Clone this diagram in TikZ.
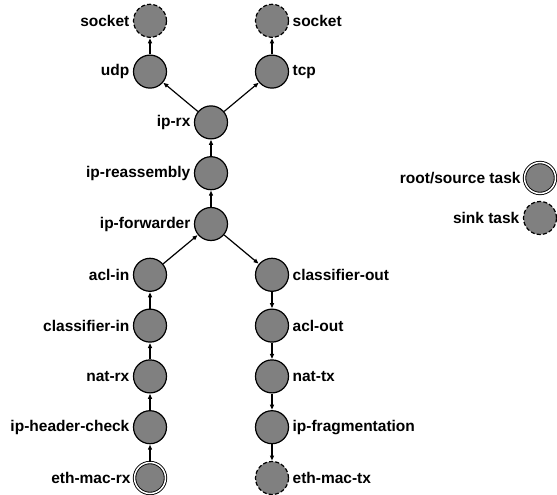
\documentclass[tikz,border=0pt]{standalone}
\usepackage{fontspec}
\setmainfont{Liberation Sans}
\usepackage{tikz}
\usetikzlibrary{positioning}
\usetikzlibrary{arrows.meta}
\tikzset{task/.style={
          circle, draw, fill=gray, line width=1.2pt,
          minimum size=33pt, inner sep=0pt,
          label distance=0pt
          },
        root task/.style={task, minimum size=31pt, line width=0.9pt, double, double distance=1.5pt},
        sink task/.style={task, dashed, dash pattern=on 4pt off 2.2pt},
        flow/.style={-{Triangle[length=5pt, width=4pt]}, line width=1.2pt, shorten >=0.4pt},
        every label/.style={font=\fontsize{15.5}{18}\selectfont\bfseries},
}

\begin{document}
\begin{tikzpicture}[x=1pt, y=1pt, node distance=50.8pt and 61pt, on grid]
      \useasboundingbox (0,0) rectangle (557,-495);

      % CENTRE STACK
      \node[task, label=left:ip-forwarder] (ipfwd) at (211,-224) {};
      \node[task, above=of ipfwd, label=left:ip-reassembly] (ipreasm) {};
      \node[task, above=of ipreasm, label=left:ip-rx] (iprx) {};

      % RX SIDE
      \node[task, below left=of ipfwd, label=left:acl-in] (aclin) {};
      \node[task, below=of aclin, label=left:classifier-in] (clsin) {};
      \node[task, below=of clsin, label=left:nat-rx] (natrx) {};
      \node[task, below=of natrx, label=left:ip-header-check] (iphdr) {};
      \node[root task, below=of iphdr, label=left:eth-mac-rx] (ethrx) {};

      % TX SIDE
      \node[task, below right=of ipfwd, label=right:classifier-out] (clsout) {};
      \node[task, below=of clsout, label=right:acl-out] (aclout) {};
      \node[task, below=of aclout, label=right:nat-tx] (nattx) {};
      \node[task, below=of nattx, label=right:ip-fragmentation] (ipfrag) {};
      \node[sink task, below=of ipfrag, label=right:eth-mac-tx] (ethtx) {};

      % TRANSPORT
      \node[task, above left=of iprx, label=left:udp] (udp) {};
      \node[task, above right=of iprx, label=right:tcp] (tcp) {};
      \node[sink task, above=of udp, label=left:socket] (udpsock) {};
      \node[sink task, above=of tcp, label=right:socket] (tcpsock) {};

      % LEGEND
      \node[root task, label=left:root/source task] (legroot) at (540,-178) {};
      \node[sink task, label=left:sink task] (legsink) at (540,-218) {};

      % edges
      \draw[flow] (ethrx) -- (iphdr);
      \draw[flow] (iphdr) -- (natrx);
      \draw[flow] (natrx) -- (clsin);
      \draw[flow] (clsin) -- (aclin);
      \draw[flow] (aclin) -- (ipfwd);
      \draw[flow] (ipfwd) -- (ipreasm);
      \draw[flow] (ipreasm) -- (iprx);
      \draw[flow] (iprx) -- (udp);
      \draw[flow] (iprx) -- (tcp);
      \draw[flow] (udp) -- (udpsock);
      \draw[flow] (tcp) -- (tcpsock);
      \draw[flow] (ipfwd) -- (clsout);
      \draw[flow] (clsout) -- (aclout);
      \draw[flow] (aclout) -- (nattx);
      \draw[flow] (nattx) -- (ipfrag);
      \draw[flow] (ipfrag) -- (ethtx);
\end{tikzpicture}
\end{document}
